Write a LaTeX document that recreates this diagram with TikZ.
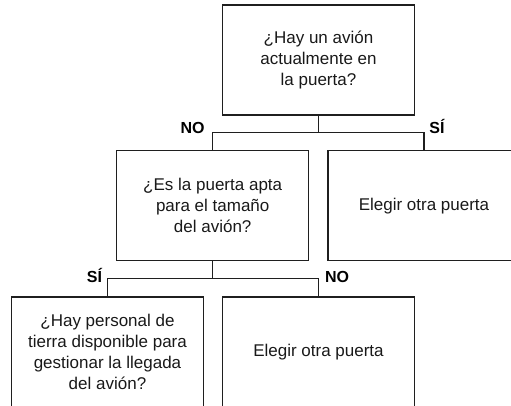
\documentclass[tikz,border=0pt]{standalone}
\usepackage{fontspec}
\setmainfont{Liberation Sans}
\begin{document}
\begin{tikzpicture}[x=1pt,y=-1pt,
  box/.style={draw=black!88, line width=1.5pt, rectangle, minimum width=192pt, minimum height=110pt,
    inner sep=0pt, align=center, font=\fontsize{17}{21}\selectfont, text=black!90},
  conn/.style={draw=black!88, line width=1.5pt},
  lbl/.style={font=\fontsize{16}{19}\selectfont\bfseries, inner sep=0pt, anchor=base, text=black}]
\useasboundingbox (0,0) rectangle (511,405);
\clip (0,0) rectangle (511,405);
\node[box] (q1) at (318.5,60) {¿Hay un avión\\actualmente en\\la puerta?};
\node[box] (q2) at (212.7,205.7) {¿Es la puerta apta\\para el tamaño\\del avión?};
\node[box] (o1) at (424,205.7) {Elegir otra puerta};
\node[box] (q3) at (107.5,352) {¿Hay personal de\\tierra disponible para\\gestionar la llegada\\del avión?};
\node[box] (o2) at (318.5,352) {Elegir otra puerta};
\coordinate (j1) at (318.5,132.7);
\coordinate (j2) at (212.7,278.3);
\draw[conn] (q1.south) -- (j1);
\draw[conn] (q2.north) |- (j1);
\draw[conn] (o1.north) |- (j1);
\draw[conn] (q2.south) -- (j2);
\draw[conn] (q3.north) |- (j2);
\draw[conn] (o2.north) |- (j2);
\node[lbl] (no1) at (192.5,133) {NO};
\node[lbl] (si1) at (437,133) {SÍ};
\node[lbl] (si2) at (94.5,282) {SÍ};
\node[lbl] (no2) at (337,282) {NO};
\end{tikzpicture}
\end{document}
